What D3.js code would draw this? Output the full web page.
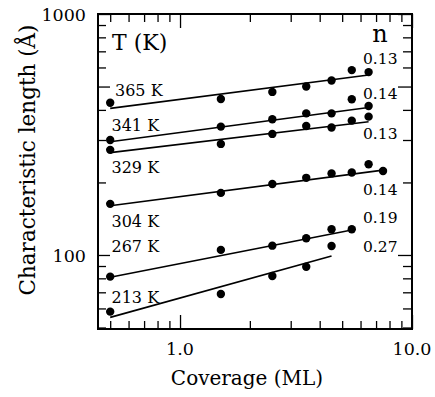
<!DOCTYPE html>
<html>
<head>
<meta charset="utf-8">
<script src="https://cdn.jsdelivr.net/npm/d3@7"></script>
<style>
  body { margin: 0; background: #fff; }
</style>
</head>
<body>
<svg id="chart" width="435" height="397"></svg>
<script>
// coverage values (ML)
const coverage = [0.5, 1.5, 2.5, 3.5, 4.5, 5.5, 6.5, 7.5];

// characteristic length (Å) for each temperature
const temps = ["365 K", "341 K", "329 K", "304 K", "267 K", "213 K"];
const exponents = ["0.13", "0.14", "0.13", "0.14", "0.19", "0.27"];
const len365 = [428, 444, 475, 500, 530, 585, 574];
const len341 = [300, 341, 366, 387, 387, 443, 415];
const len329 = [273, 289, 318, 343, 338, 361, 375];
const len304 = [163, 181, 197, 209, 218, 220, 238, 223];
const len267 = [81.3, 105, 109.3, 117.3, 127.8, 127.8];
const len213 = [58.2, 68.9, 81.8, 89.4, 109];

// fitted power-law lines: [coverage, length] end points
const fit365 = [[0.5, 406], [6.5, 558]];
const fit341 = [[0.5, 295], [6.5, 409]];
const fit329 = [[0.5, 266], [6.5, 357]];
const fit304 = [[0.5, 160], [7.5, 225]];
const fit267 = [[0.5, 80.8], [5.5, 127]];
const fit213 = [[0.5, 55.1], [4.5, 99]];

// axis ticks
const xMajor = [1, 10];
const xMinor = [0.5, 0.6, 0.7, 0.8, 0.9, 2, 3, 4, 5, 6, 7, 8, 9];
const xLabels = ["1.0", "10.0"];
const yMajor = [100, 500, 1000];
const yMinor = [50, 60, 70, 80, 90, 200, 300, 400, 600, 700, 800, 900];
const yLabels = [[1000, "1000"], [100, "100"]];

const series = [len365, len341, len329, len304, len267, len213];
const fits = [fit365, fit341, fit329, fit304, fit267, fit213];

// layout
const plotL = 98, plotR = 412, plotT = 14, plotB = 329;
const serif = "DejaVu Serif";
const svg = d3.select("#chart");

const x = d3.scaleLog().domain([0.443, 10]).range([plotL, plotR]);
const y = d3.scaleLog().domain([49.3, 1000]).range([plotB, plotT]);

// ticks (inward) on all four sides
function ticks(axisFn, vals, size, transform) {
    const g = svg.append("g")
        .attr("transform", transform)
        .call(axisFn.tickValues(vals).tickSize(size).tickFormat(""));
    g.select(".domain").remove();
    g.selectAll("line").attr("stroke", "#000").attr("stroke-width", 1.3);
}
ticks(d3.axisBottom(x), xMinor, -8, `translate(0,${plotB})`);
ticks(d3.axisBottom(x), xMajor, -14, `translate(0,${plotB})`);
ticks(d3.axisTop(x), xMinor, -8, `translate(0,${plotT})`);
ticks(d3.axisTop(x), xMajor, -14, `translate(0,${plotT})`);
ticks(d3.axisLeft(y), yMinor, -8, `translate(${plotL},0)`);
ticks(d3.axisLeft(y), yMajor, -12, `translate(${plotL},0)`);
ticks(d3.axisRight(y), yMinor, -9, `translate(${plotR},0)`);
ticks(d3.axisRight(y), yMajor, -14, `translate(${plotR},0)`);

// frame
svg.append("rect")
    .attr("x", plotL).attr("y", plotT)
    .attr("width", plotR - plotL).attr("height", plotB - plotT)
    .attr("fill", "none").attr("stroke", "#000").attr("stroke-width", 2);

// helper for serif text
function label(sel) {
    return sel.style("font-family", serif).attr("fill", "#000");
}

// tick labels
label(svg.selectAll(".ylab").data(yLabels).enter().append("text"))
    .attr("x", 86)
    .attr("y", d => y(d[0]) + 7)
    .attr("text-anchor", "end")
    .attr("font-size", 17.5)
    .text(d => d[1]);

label(svg.selectAll(".xlab").data(xMajor).enter().append("text"))
    .attr("x", d => x(d))
    .attr("y", 355)
    .attr("text-anchor", "middle")
    .attr("font-size", 17.5)
    .text((d, i) => xLabels[i]);

// axis titles
label(svg.append("text"))
    .attr("x", 247).attr("y", 385)
    .attr("text-anchor", "middle")
    .attr("font-size", 20)
    .text("Coverage (ML)");

label(svg.append("text"))
    .attr("transform", "translate(35,160) rotate(-90)")
    .attr("text-anchor", "middle")
    .attr("font-size", 21.5)
    .text("Characteristic length (Å)");

// fit lines
const line = d3.line().x(d => x(d[0])).y(d => y(d[1]));
svg.selectAll(".fit").data(fits).enter().append("path")
    .attr("d", line)
    .attr("fill", "none")
    .attr("stroke", "#000")
    .attr("stroke-width", 1.6);

// data points
series.forEach(vals => {
    svg.append("g").selectAll("circle").data(vals).enter().append("circle")
        .attr("cx", (d, i) => x(coverage[i]))
        .attr("cy", d => y(d))
        .attr("r", 4.2)
        .attr("fill", "#000");
});

// temperature labels (left) and exponent labels (right)
const tempLabelPos = [[115, 96], [111.5, 130.5], [111.5, 172.5], [111.5, 227], [111.5, 252], [111.5, 302.5]];
const expLabelY = [64, 99, 139, 195, 223, 251.5];

label(svg.selectAll(".tlab").data(temps).enter().append("text"))
    .attr("x", (d, i) => tempLabelPos[i][0])
    .attr("y", (d, i) => tempLabelPos[i][1])
    .attr("font-size", 16)
    .text(d => d);

label(svg.selectAll(".nlab").data(exponents).enter().append("text"))
    .attr("x", 363)
    .attr("y", (d, i) => expLabelY[i])
    .attr("font-size", 15.5)
    .text(d => d);

label(svg.append("text"))
    .attr("x", 112).attr("y", 50)
    .attr("font-size", 22)
    .text("T (K)");

label(svg.append("text"))
    .attr("x", 380).attr("y", 42)
    .attr("text-anchor", "middle")
    .attr("font-size", 24)
    .text("n");
</script>
</body>
</html>
